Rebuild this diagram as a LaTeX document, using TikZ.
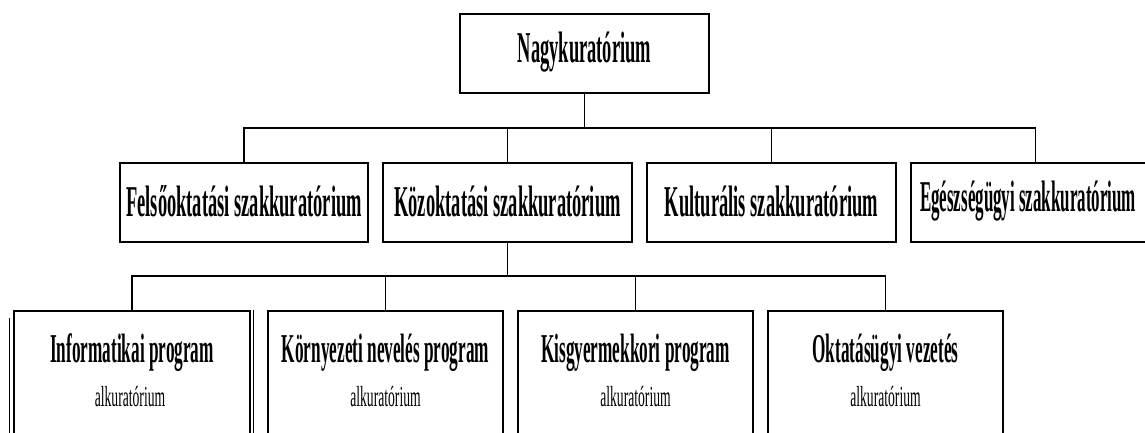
\documentclass[tikz,border=0pt]{standalone}
\usepackage{fontspec}
\newfontfamily\condb[FakeStretch=0.42]{Liberation Serif}
\newfontfamily\condn[FakeStretch=0.385]{Liberation Serif}
\newfontfamily\condr[FakeStretch=0.47]{Liberation Serif}
\begin{document}
\begin{tikzpicture}[x=1pt,y=-1pt,
  box/.style={draw, line width=1.3pt, inner sep=0pt, minimum width=249pt, minimum height=79pt},
  lowbox/.style={draw, line width=1.3pt, inner sep=0pt, minimum width=235pt, minimum height=139pt},
  big/.style={font=\condb\bfseries\fontsize{44}{48}\selectfont, inner sep=0pt},
  narrow/.style={font=\condn\bfseries\fontsize{44}{48}\selectfont, inner sep=0pt},
  mid/.style={font=\condb\bfseries\fontsize{41}{44}\selectfont, inner sep=0pt, anchor=base},
  small/.style={font=\condr\fontsize{29}{31}\selectfont, inner sep=0pt, anchor=base},
  wire/.style={line width=1.3pt}]
\useasboundingbox (0,0) rectangle (1145,432);
\begin{scope}
\clip (0,0) rectangle (1145,432);
\fill[white] (0,0) rectangle (1145,432);
% level 1
\node[box] (nagy) at (584.5,53.5) {};
\node[big] (nagyt) at (584.5,52) {Nagykuratórium};
% level 2
\node[box, minimum width=248pt] (felso) at (244,202.5) {};
\node[box] (koz) at (507.5,202.5) {};
\node[box] (kult) at (771.5,202.5) {};
\node[box] (egesz) at (1035.5,202.5) {};
\node[big] (felsot) at (244,201) {Felsőoktatási szakkuratórium};
\node[big] (kozt) at (507.5,201) {Közoktatási szakkuratórium};
\node[big] (kultt) at (771.5,201) {Kulturális szakkuratórium};
\node[narrow] (egeszt) at (1028,201) {Egészségügyi szakkuratórium};
% level 3
\node[lowbox, minimum width=236pt] (inf) at (132,380.5) {};
\node[lowbox] (korny) at (385.5,380.5) {};
\node[lowbox] (kisgy) at (635.5,380.5) {};
\node[lowbox] (okt) at (885.5,380.5) {};
\coordinate (infsh) at (9.5,318);
\draw[wire] (infsh) -- (infsh |- inf.south);
\draw[wire] ([xshift=2.5pt]inf.north east) -- ([xshift=2.5pt]inf.south east);
\node[mid] (inft) at (132,362) {Informatikai program};
\node[small] (infs) at (130,406) {alkuratórium};
\node[mid] (kornyt) at (385.5,362) {Környezeti nevelés program};
\node[small] (kornys) at (385.5,406) {alkuratórium};
\node[mid] (kisgyt) at (635.5,362) {Kisgyermekkori program};
\node[small] (kisgys) at (635.5,406) {alkuratórium};
\node[mid] (oktt) at (885.5,362) {Oktatásügyi vezetés};
\node[small] (okts) at (885.5,406) {alkuratórium};
% connectors
\coordinate (bus1) at (584.5,128);
\coordinate (bus2) at (507.5,276);
\draw[wire] (nagy.south) -- (bus1);
\draw[wire] (felso.north) |- (bus1 -| egesz.north) -- (egesz.north);
\draw[wire] (koz.north) -- (koz.north |- bus1);
\draw[wire] (kult.north) -- (kult.north |- bus1);
\draw[wire] (koz.south) -- (bus2);
\draw[wire] (inf.north) |- (bus2 -| okt.north) -- (okt.north);
\draw[wire] (korny.north) -- (korny.north |- bus2);
\draw[wire] (kisgy.north) -- (kisgy.north |- bus2);
\end{scope}
\end{tikzpicture}
\end{document}
